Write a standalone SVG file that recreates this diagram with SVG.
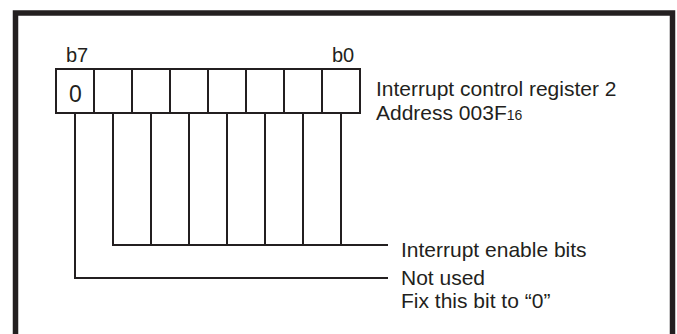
<svg xmlns="http://www.w3.org/2000/svg" width="677" height="334" viewBox="0 0 677 334">
<style>
text{font-family:"Liberation Sans",Arial,sans-serif;fill:#231f20}
.lbl{font-size:21px}
.ln{stroke:#231f20;stroke-width:2;fill:none}
</style>
<rect x="0" y="0" width="677" height="334" fill="#fff"/>
<g id="frame"><rect x="15.5" y="13" width="657" height="340" fill="none" stroke="#231f20" stroke-width="5.5"/></g>
<g id="register">
<rect class="ln" x="56" y="69" width="304" height="44"/>
<path class="ln" d="M94 69V113M132 69V113M170 69V113M208 69V113M246 69V113M284 69V113M322 69V113"/>
<text x="75.5" y="102" font-size="23" text-anchor="middle">0</text>
<text x="66" y="62" font-size="20">b7</text>
<text x="332" y="62" font-size="20">b0</text>
<text class="lbl" x="376" y="96">Interrupt control register 2</text>
<text class="lbl" x="376" y="120">Address 003F<tspan font-size="14">16</tspan></text>
</g>
<g id="connectors">
<path class="ln" d="M113 113V245M151 113V245M189 113V245M227 113V245M265 113V245M303 113V245M341 113V245M112 245H388"/>
<path class="ln" d="M75 113V278H388"/>
</g>
<g id="enable"><text class="lbl" x="401" y="257">Interrupt enable bits</text></g>
<g id="notused">
<text class="lbl" x="401" y="285">Not used</text>
<text class="lbl" x="401" y="308">Fix this bit to “0”</text>
</g>
</svg>
